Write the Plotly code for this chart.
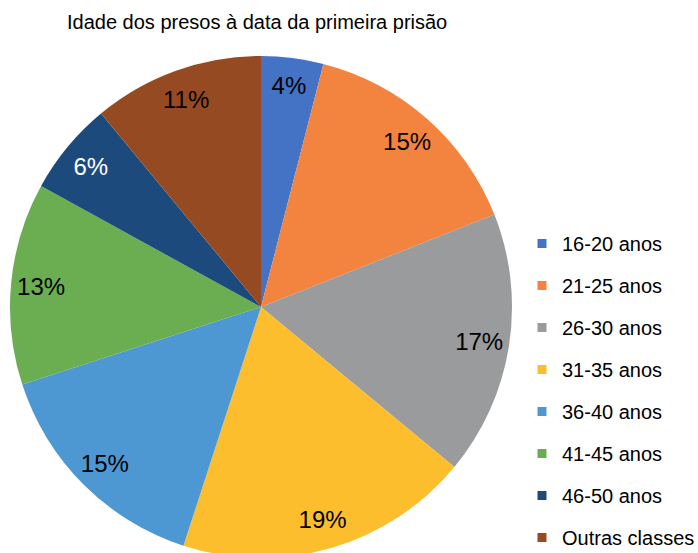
import plotly.graph_objects as go

labels = ["16-20 anos", "21-25 anos", "26-30 anos", "31-35 anos",
          "36-40 anos", "41-45 anos", "46-50 anos", "Outras classes"]
values = [4, 15, 17, 19, 15, 13, 6, 11]
colors = ["#4472C4", "#F28440", "#999B9C", "#FCBE2C",
          "#4D98D3", "#6BAE52", "#1D4A7C", "#964A21"]
text_colors = ["black", "black", "black", "black", "black", "black", "white", "black"]

W, H = 698, 560
cx, cy, r = 261, 307, 251
dom_x = [(cx - r) / W, (cx + r) / W]
dom_y = [1 - (cy + r) / H, 1 - (cy - r) / H]

fig = go.Figure()

# the pie itself
fig.add_trace(go.Pie(
	labels=labels, values=values, sort=False, direction="clockwise",
	marker=dict(colors=colors, line=dict(width=0)),
	textinfo="none", showlegend=False, hoverinfo="label+percent",
	domain=dict(x=dom_x, y=dom_y)))

# transparent ring on top, only to place the % labels near the rim
fig.add_trace(go.Pie(
	labels=labels, values=values, sort=False, direction="clockwise", hole=0.76,
	marker=dict(colors=["rgba(0,0,0,0)"] * len(values), line=dict(width=0)),
	textinfo="percent", texttemplate="%{percent:.0%}", textposition="inside",
	insidetextorientation="horizontal",
	insidetextfont=dict(size=24, color=text_colors, family="Liberation Sans, Arial"),
	showlegend=False, hoverinfo="skip",
	domain=dict(x=dom_x, y=dom_y)))

# legend entries, one group per class so the spacing can be set
for lab, col in zip(labels, colors):
	fig.add_trace(go.Scatter(
		x=[None], y=[None], mode="markers", name=lab, legendgroup=lab,
		marker=dict(symbol="square", size=9, color=col)))

fig.update_layout(
	width=W, height=H,
	margin=dict(l=0, r=0, t=0, b=0, autoexpand=False),
	paper_bgcolor="white", plot_bgcolor="white",
	font=dict(family="Liberation Sans, Arial", color="black"),
	title=dict(text="Idade dos presos à data da primeira prisão", x=67 / W, xanchor="left",
		y=1 - 22 / H, yanchor="middle", font=dict(size=20, color="black")),
	xaxis=dict(visible=False), yaxis=dict(visible=False),
	legend=dict(x=522 / W, xanchor="left", y=1 - 224 / H, yanchor="top",
		font=dict(size=20, color="black"), tracegroupgap=13,
		traceorder="grouped", itemwidth=30, bgcolor="rgba(0,0,0,0)"),
	uniformtext=dict(minsize=24, mode="show"))

fig.write_html("out.html", config={"displayModeBar": False},
	post_script="document.body.style.margin='0';document.body.style.overflow='hidden';")
